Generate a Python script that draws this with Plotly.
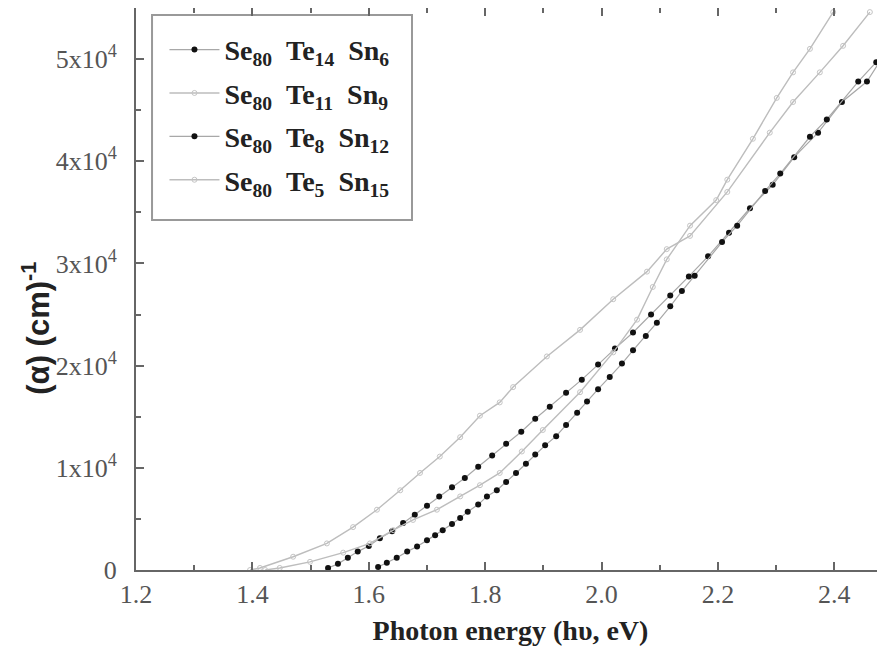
import plotly.graph_objects as go

# ---- data (photon energy in eV, alpha in cm^-1) ----
sp = "\u2002"
names = ["Se<sub>80</sub>" + sp + "Te<sub>14</sub>" + sp + "Sn<sub>6</sub>",
         "Se<sub>80</sub>" + sp + "Te<sub>11</sub>" + sp + "Sn<sub>9</sub>",
         "Se<sub>80</sub>" + sp + "Te<sub>8</sub>" + sp + "Sn<sub>12</sub>",
         "Se<sub>80</sub>" + sp + "Te<sub>5</sub>" + sp + "Sn<sub>15</sub>"]

e_te14 = [1.530, 1.547, 1.564, 1.581, 1.600, 1.619, 1.640, 1.659, 1.679, 1.700,
          1.721, 1.743, 1.765, 1.788, 1.812, 1.836, 1.862, 1.886, 1.911, 1.939,
          1.966, 1.994, 2.023, 2.054, 2.085, 2.118, 2.150, 2.183, 2.219, 2.255,
          2.294, 2.331, 2.372, 2.413, 2.456, 2.484]
a_te14 = [0.02, 0.06, 0.12, 0.18, 0.235, 0.31, 0.38, 0.46, 0.54, 0.63,
          0.72, 0.81, 0.90, 1.01, 1.12, 1.235, 1.353, 1.48, 1.598, 1.735,
          1.863, 2.01, 2.167, 2.324, 2.50, 2.686, 2.873, 3.07, 3.30, 3.54,
          3.77, 4.04, 4.28, 4.58, 4.78, 5.03]

e_te11 = [1.396, 1.413, 1.470, 1.528, 1.573, 1.614, 1.654, 1.688, 1.722, 1.757,
          1.791, 1.825, 1.848, 1.906, 1.963, 2.020, 2.078, 2.112, 2.152, 2.216,
          2.289, 2.329, 2.375, 2.415, 2.461]
a_te11 = [0.0, 0.02, 0.13, 0.26, 0.42, 0.59, 0.78, 0.95, 1.11, 1.30,
          1.51, 1.64, 1.79, 2.09, 2.35, 2.65, 2.92, 3.14, 3.27, 3.70,
          4.28, 4.58, 4.87, 5.13, 5.46]

e_te8 = [1.616, 1.631, 1.648, 1.666, 1.683, 1.700, 1.714, 1.727, 1.743, 1.757,
         1.770, 1.788, 1.803, 1.820, 1.836, 1.853, 1.870, 1.886, 1.903, 1.922,
         1.939, 1.958, 1.975, 1.994, 2.014, 2.035, 2.054, 2.076, 2.095, 2.118,
         2.138, 2.160, 2.207, 2.233, 2.281, 2.307, 2.358, 2.387, 2.441, 2.472]
a_te8 = [0.03, 0.07, 0.12, 0.18, 0.23, 0.29, 0.34, 0.39, 0.45, 0.51,
         0.57, 0.64, 0.72, 0.78, 0.86, 0.95, 1.04, 1.13, 1.22, 1.31,
         1.42, 1.54, 1.65, 1.77, 1.89, 2.02, 2.15, 2.29, 2.42, 2.58,
         2.73, 2.88, 3.21, 3.37, 3.71, 3.88, 4.24, 4.41, 4.78, 4.97]

e_te5 = [1.422, 1.447, 1.499, 1.556, 1.602, 1.642, 1.676, 1.717, 1.757, 1.791,
         1.825, 1.863, 1.899, 1.963, 2.020, 2.061, 2.088, 2.112, 2.152, 2.197,
         2.216, 2.260, 2.301, 2.329, 2.358, 2.398]
a_te5 = [0.0, 0.02, 0.08, 0.17, 0.26, 0.39, 0.49, 0.59, 0.72, 0.83,
         0.95, 1.16, 1.37, 1.74, 2.13, 2.45, 2.77, 3.04, 3.37, 3.62,
         3.82, 4.22, 4.62, 4.87, 5.10, 5.46]

x_ticks = [1.2, 1.4, 1.6, 1.8, 2.0, 2.2, 2.4]
x_ticktext = ["1.2", "1.4", "1.6", "1.8", "2.0", "2.2", "2.4"]
y_ticks = [0, 1e4, 2e4, 3e4, 4e4, 5e4]
y_ticktext = ["0", "1x10<sup>4</sup>", "2x10<sup>4</sup>", "3x10<sup>4</sup>",
              "4x10<sup>4</sup>", "5x10<sup>4</sup>"]
y_title = "(α) (cm)<sup>-1</sup>"
x_title = "Photon energy (hυ, eV)"

series = [(e_te14, a_te14, "filled"), (e_te11, a_te11, "open"),
          (e_te8, a_te8, "filled"), (e_te5, a_te5, "open")]

fig = go.Figure()
for i, ((ex, ay, kind), nm) in enumerate(zip(series, names)):
    if kind == "filled":
        marker = dict(symbol="circle", size=6, color="#111111")
        line = dict(color="#a8a8a8", width=1.2)
    else:
        marker = dict(symbol="circle-open", size=5, color="#c4c4c4",
                      line=dict(width=1, color="#c4c4c4"))
        line = dict(color="#bdbdbd", width=1.4)
    fig.add_trace(go.Scatter(x=ex, y=[v * 1e4 for v in ay], mode="lines+markers",
                             name=nm, marker=marker, line=line,
                             legendgroup=str(i), cliponaxis=True))

# dummy trace for right-side tick axis
fig.add_trace(go.Scatter(x=[None], y=[None], yaxis="y2", showlegend=False))

tickfont = dict(family="Liberation Serif", size=26, color="#555555")
fig.update_layout(
    # the page body adds an 8 px margin, so the figure is 8 px smaller
    width=877, height=640,
    margin=dict(l=128, r=0, t=0, b=78),
    paper_bgcolor="white", plot_bgcolor="white",
    xaxis=dict(range=[1.2, 2.487], tickmode="array", tickvals=x_ticks,
               ticktext=x_ticktext, ticks="inside", ticklen=8, tickwidth=2,
               tickcolor="#666666", showline=True, linewidth=2,
               linecolor="#666666", mirror="ticks", showgrid=False,
               zeroline=False, tickfont=tickfont, automargin=False,
               minor=dict(dtick=0.1, tick0=1.2, ticks="inside", ticklen=5,
                          tickwidth=1.5, tickcolor="#666666", showgrid=False),
               title=dict(text=x_title, standoff=12,
                          font=dict(family="Liberation Serif", size=28,
                                    color="#222222", weight="bold"))),
    yaxis=dict(range=[0, 5.5e4], tickmode="array", tickvals=y_ticks,
               ticktext=y_ticktext, ticks="inside", ticklen=8, tickwidth=2,
               tickcolor="#666666", showline=True, linewidth=2,
               linecolor="#666666", showgrid=False, zeroline=False,
               tickfont=tickfont, automargin=False, ticklabelstandoff=12,
               minor=dict(dtick=5000, tick0=0, ticks="inside", ticklen=5,
                          tickwidth=1.5, tickcolor="#666666", showgrid=False)),
    yaxis2=dict(range=[0, 5.5e4], overlaying="y", side="right", anchor="x",
                showline=False, showgrid=False, zeroline=False, automargin=False,
                tickmode="array", tickvals=y_ticks, showticklabels=False,
                ticks="inside", ticklen=8, tickwidth=2, tickcolor="#666666",
                minor=dict(dtick=5000, tick0=0, ticks="inside", ticklen=5,
                           tickwidth=1.5, tickcolor="#666666")),
    legend=dict(x=0.038, y=0.97, xanchor="left", yanchor="top",
                bgcolor="rgba(0,0,0,0)", borderwidth=0,
                font=dict(family="Liberation Serif", size=28, color="#222222",
                          weight="bold"),
                tracegroupgap=4, itemwidth=50),
    shapes=[dict(type="rect", xref="paper", yref="paper",
                 x0=0.0214, x1=0.3685, y0=0.6228, y1=0.9875,
                 line=dict(color="#999999", width=2), fillcolor="white",
                 layer="below")],
    annotations=[dict(text=y_title, textangle=-90, xref="paper", yref="paper",
                      x=-0.133, y=0.43, xanchor="center", yanchor="middle",
                      showarrow=False,
                      font=dict(family="Liberation Sans", size=31,
                                color="#222222", weight="bold"))],
    showlegend=True,
)

fig.write_html("out.html")
